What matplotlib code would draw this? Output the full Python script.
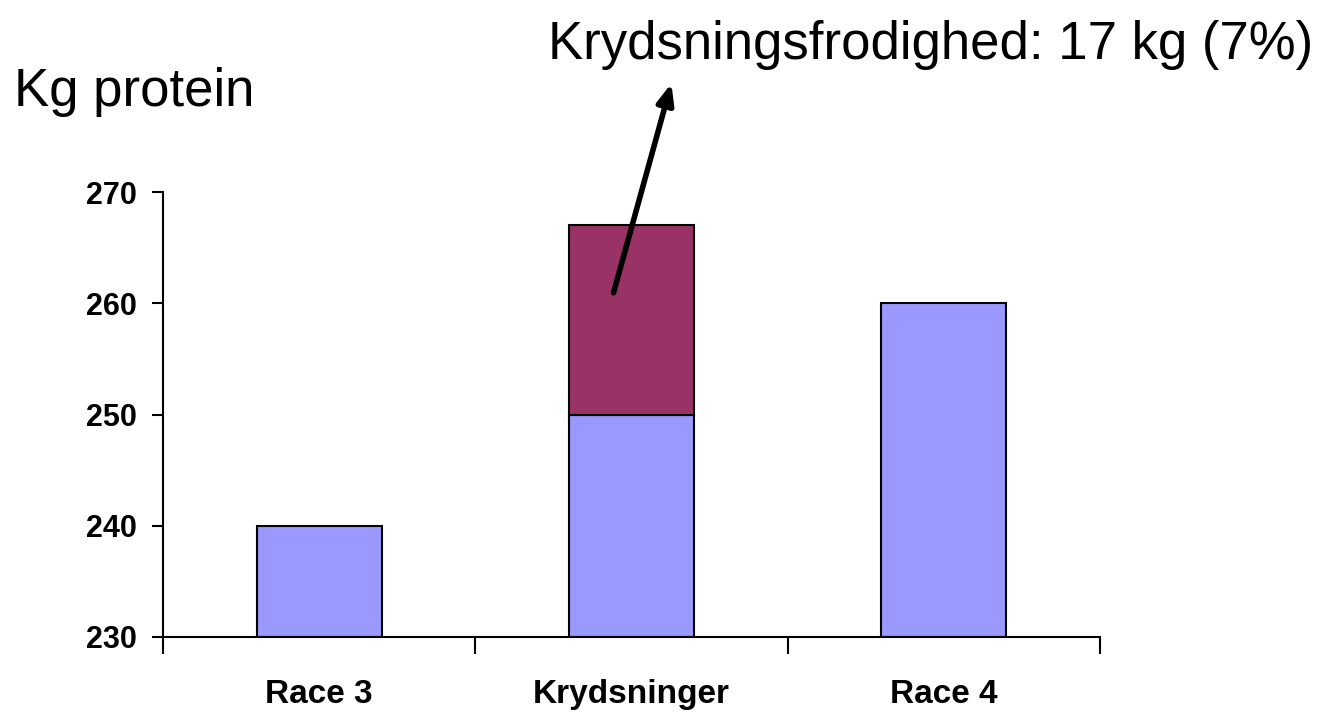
import matplotlib.pyplot as plt

plt.rcParams['font.family'] = ['Liberation Sans', 'DejaVu Sans']

categories = ['Race 3', 'Krydsninger', 'Race 4']
base = [240, 250, 260]
heterosis = [0, 17, 0]
yticks = [230, 240, 250, 260, 270]

fig = plt.figure(figsize=(13.28, 7.17), dpi=100)
ax = fig.add_axes([163/1328, 1 - 637/717, 937/1328, 445/717])

x = range(len(categories))
ax.bar(x, [b - 230 for b in base], bottom=230, width=0.4,
       color='#9999ff', edgecolor='black', linewidth=1.5)
for i in x:
    if heterosis[i] > 0:
        ax.bar(i, heterosis[i], bottom=base[i], width=0.4,
               color='#993366', edgecolor='black', linewidth=1.5)

ax.set_xlim(-0.5, 2.5)
ax.set_ylim(230, 270)
ax.set_yticks(yticks)
ax.set_yticklabels([str(t) for t in yticks], fontsize=22, fontweight='bold')
ax.set_xticks([-0.5, 0.5, 1.5, 2.5])
ax.set_xticklabels([])
ax.set_xticks(list(x), minor=True)
ax.set_xticklabels(categories, minor=True, fontsize=24, fontweight='bold')
ax.tick_params(axis='x', which='major', length=12, width=1.5, direction='out')
ax.tick_params(axis='x', which='minor', length=0, pad=30)
ax.tick_params(axis='y', length=8, width=1.5, direction='out', pad=11)
for s in ['top', 'right']:
    ax.spines[s].set_visible(False)
for s in ['left', 'bottom']:
    ax.spines[s].set_linewidth(1.5)

ax.annotate('', xy=(1.13, 280.0), xytext=(0.94, 260.7),
            xycoords='data', annotation_clip=False,
            arrowprops=dict(arrowstyle='-|>,head_length=1.2,head_width=0.5',
                            color='black', lw=4))

fig.text(548/1328, 1 - 45/717, 'Krydsningsfrodighed: 17 kg (7%)',
         fontsize=38, va='center', ha='left')
fig.text(14/1328, 1 - 92/717, 'Kg protein', fontsize=38, va='center', ha='left')

fig.savefig('out.png', dpi=100)
